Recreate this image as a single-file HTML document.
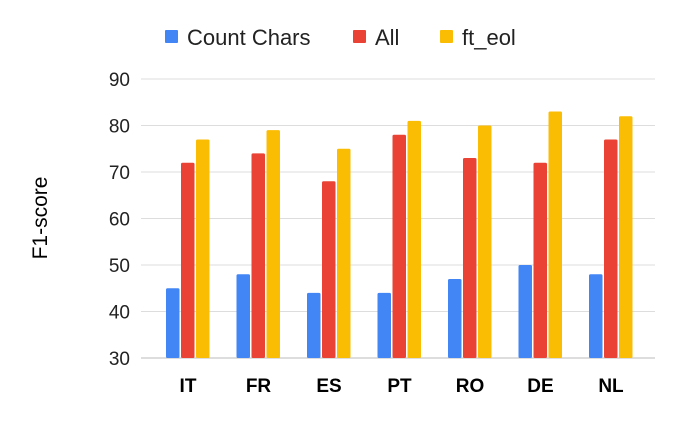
<!DOCTYPE html>
<html><head><meta charset="utf-8"><style>
body{margin:0;background:#fff;font-family:"Liberation Sans",Arial,sans-serif;}
</style></head><body>
<svg width="675" height="418" viewBox="0 0 675 418" xmlns="http://www.w3.org/2000/svg">
<g id="legend"></g>
<g id="grid"></g>
<g id="bars"></g>
<g id="labels"></g>
<text transform="translate(47,218) rotate(-90)" text-anchor="middle" font-size="21" fill="#000">F1-score</text>
</svg>
<script>
const categories=["IT","FR","ES","PT","RO","DE","NL"];
const countChars=[45,48,44,44,47,50,48];
const allVals=[72,74,68,78,73,72,77];
const ftEol=[77,79,75,81,80,83,82];
const yTicks=[30,40,50,60,70,80,90];
const seriesNames=["Count Chars","All","ft_eol"];
const NS="http://www.w3.org/2000/svg";
const colors=["#4285f4","#ea4335","#fbbc04"];
const y=v=>358-(v-30)*46.5/10;
const xc=i=>188+i*70.5;
function mk(tag,attrs,parent,text){const e=document.createElementNS(NS,tag);for(const k in attrs)e.setAttribute(k,attrs[k]);if(text!==undefined)e.textContent=text;document.getElementById(parent).appendChild(e);return e;}
yTicks.forEach(t=>{
 const l=mk("line",{x1:141,x2:655,y1:y(t),y2:y(t),stroke:t===30?"#bbb":"#ddd","stroke-width":1},"grid");
 
 
 const tx=mk("text",{x:130,y:y(t)+7,"text-anchor":"end","font-size":19,fill:"#222"},"labels",t);
 
 
});
const series=[countChars,allVals,ftEol];
categories.forEach((c,i)=>{
 series.forEach((s,j)=>{
  const bx=xc(i)-22+j*15;
  const r=mk("rect",{x:bx,y:y(s[i]),width:13.5,height:358-y(s[i]),fill:colors[j],rx:1.5},"bars");
  
  
 });
 const t=mk("text",{x:xc(i),y:392,"text-anchor":"middle","font-size":19,"font-weight":"bold",fill:"#000"},"labels",c);
 
 
});
const lx=[165,353,440];
seriesNames.forEach((n,j)=>{
 const r=mk("rect",{x:lx[j],y:30,width:13,height:13,fill:colors[j],rx:1},"legend");
 
 
 const t=mk("text",{x:lx[j]+22,y:45,"font-size":22,fill:"#222"},"legend",n);
 
 
});
</script>
</body></html>
